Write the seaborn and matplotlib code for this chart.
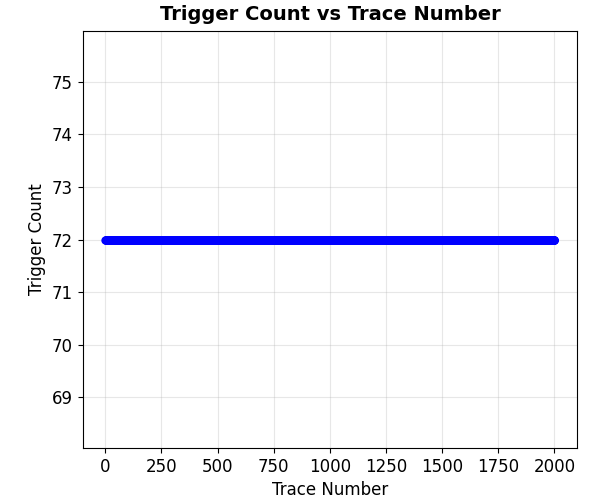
import numpy as np
import matplotlib
matplotlib.use("Agg")
import matplotlib.pyplot as plt
import seaborn as sns

# Data: every trace gives 72 triggers
trace_number = np.arange(0, 2001)
trigger_count = [72] * len(trace_number)

sns.set_style("ticks", {"text.color": "black", "axes.labelcolor": "black",
                        "xtick.color": "black", "ytick.color": "black",
                        "axes.edgecolor": "black"})
plt.rcParams['font.family'] = ['DejaVu Sans']

fig, ax = plt.subplots(figsize=(5.96, 5.0), dpi=100)
sns.lineplot(x=trace_number, y=trigger_count, ax=ax, color="blue",
             marker="o", markersize=6, markeredgewidth=0, linewidth=2)

ax.set_title("Trigger Count vs Trace Number", fontsize=14, fontweight="bold",
             color="black", pad=8)
ax.set_xlabel("Trace Number", fontsize=12)
ax.set_ylabel("Trigger Count", fontsize=12)
ax.tick_params(labelsize=12)
ax.grid(True, color="#b0b0b0", alpha=0.3)
for s in ax.spines.values():
    s.set_visible(True)

plt.subplots_adjust(left=0.139, right=0.968, top=0.938, bottom=0.104)
plt.savefig("out.png", dpi=100)
